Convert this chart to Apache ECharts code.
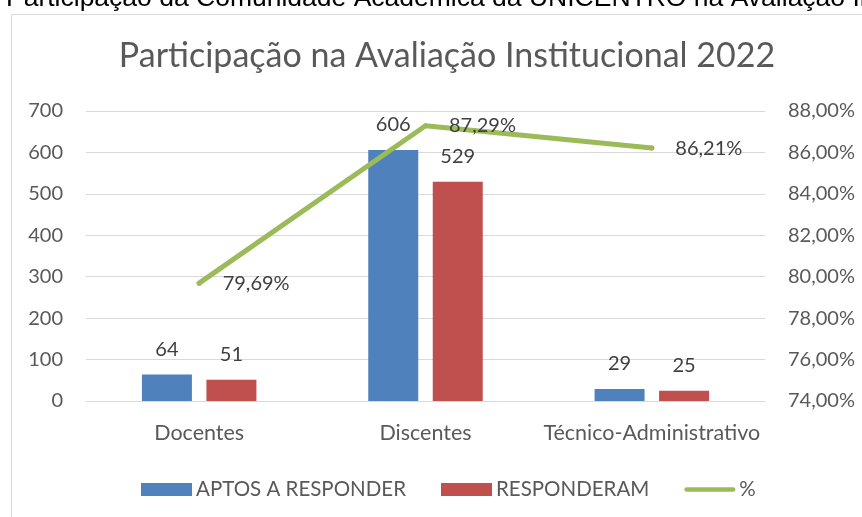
<!DOCTYPE html>
<html>
<head>
<meta charset="utf-8">
<script src="https://cdn.jsdelivr.net/npm/echarts@6/dist/echarts.min.js"></script>
<style>
html,body{margin:0;padding:0;background:#fff;}
#c{width:862px;height:517px;}
</style>
</head>
<body>
<div id="c"></div>
<script>
const categories = ['Docentes', 'Discentes', 'Técnico-Administrativo'];
const aptos = [64, 606, 29];
const responderam = [51, 529, 25];
const percent = [79.69, 87.29, 86.21];
const seriesNames = ['APTOS A RESPONDER', 'RESPONDERAM', '%'];
const titleText = 'Participação na Avaliação Institucional 2022';
const headingText = 'Participação da Comunidade Acadêmica da UNICENTRO na Avaliação Institucional';

const FONT = 'Lato';
const fmtPct = v => v.toFixed(2).replace('.', ',') + '%';

const chart = echarts.init(document.getElementById('c'), null, {renderer: 'canvas'});
chart.setOption({
  backgroundColor: '#fff',
  animation: false,
  title: {
    text: titleText,
    left: 442,
    textAlign: 'center',
    top: 34,
    textStyle: {fontFamily: FONT, fontSize: 34, fontWeight: 'normal', color: '#595959'}
  },
  graphic: [
    {
      type: 'rect', left: 9, top: 12, silent: true,
      shape: {x: 0, y: 0, width: 900, height: 600},
      style: {fill: 'none', stroke: '#D9D9D9', lineWidth: 1}
    },
    {
      type: 'text', x: 6, y: -1, silent: true,
      style: {text: headingText, fontFamily: 'Liberation Sans', fontSize: 26.5, fill: '#000', verticalAlign: 'middle', align: 'left'}
    }
  ],
  grid: {left: 86, right: 97, top: 111, bottom: 116, containLabel: false},
  legend: {
    left: 136, top: 474,
    itemWidth: 51, itemHeight: 13, itemGap: 35,
    textStyle: {fontFamily: FONT, fontSize: 20.5, color: '#595959', padding: [0, 0, 0, -1]},
    data: [
      {name: seriesNames[0], icon: 'rect'},
      {name: seriesNames[1], icon: 'rect'},
      {name: seriesNames[2], icon: 'path://M2.5,0 L52.5,0 A2.5,2.5 0 0 1 52.5,5 L2.5,5 A2.5,2.5 0 0 1 2.5,0 Z'}
    ]
  },
  xAxis: {
    type: 'category',
    data: categories,
    axisLine: {show: true, lineStyle: {color: '#D9D9D9', width: 1}},
    axisTick: {show: false},
    axisLabel: {fontFamily: FONT, fontSize: 21.5, color: '#595959', margin: 21, interval: 0}
  },
  yAxis: [
    {
      type: 'value', min: 0, max: 700, interval: 100,
      axisLine: {show: false}, axisTick: {show: false},
      splitLine: {show: true, lineStyle: {color: '#D9D9D9', width: 1}},
      axisLabel: {fontFamily: FONT, fontSize: 20, color: '#595959', margin: 23}
    },
    {
      type: 'value', min: 74, max: 88, interval: 2,
      axisLine: {show: false}, axisTick: {show: false},
      splitLine: {show: false},
      axisLabel: {fontFamily: FONT, fontSize: 20, color: '#595959', margin: 23, formatter: fmtPct}
    }
  ],
  series: [
    {
      name: seriesNames[0], type: 'bar', data: aptos, yAxisIndex: 0,
      barWidth: 50, barGap: '29%',
      itemStyle: {color: '#4F81BD'},
      label: {show: true, position: 'top', distance: 15, fontFamily: FONT, fontSize: 20, color: '#404040'}
    },
    {
      name: seriesNames[1], type: 'bar', data: responderam, yAxisIndex: 0,
      barWidth: 50, barGap: '29%',
      itemStyle: {color: '#C0504D'},
      label: {show: true, position: 'top', distance: 15, fontFamily: FONT, fontSize: 20, color: '#404040'}
    },
    {
      name: seriesNames[2], type: 'line', data: percent, yAxisIndex: 1,
      symbol: 'circle', symbolSize: 5, showSymbol: true,
      itemStyle: {color: '#9BBB59'},
      lineStyle: {color: '#9BBB59', width: 5, cap: 'round', join: 'round'},
      label: {show: true, position: 'right', distance: 21, fontFamily: FONT, fontSize: 20, color: '#404040',
        formatter: p => fmtPct(p.value)},
      z: 5
    }
  ]
});
</script>
</body>
</html>
